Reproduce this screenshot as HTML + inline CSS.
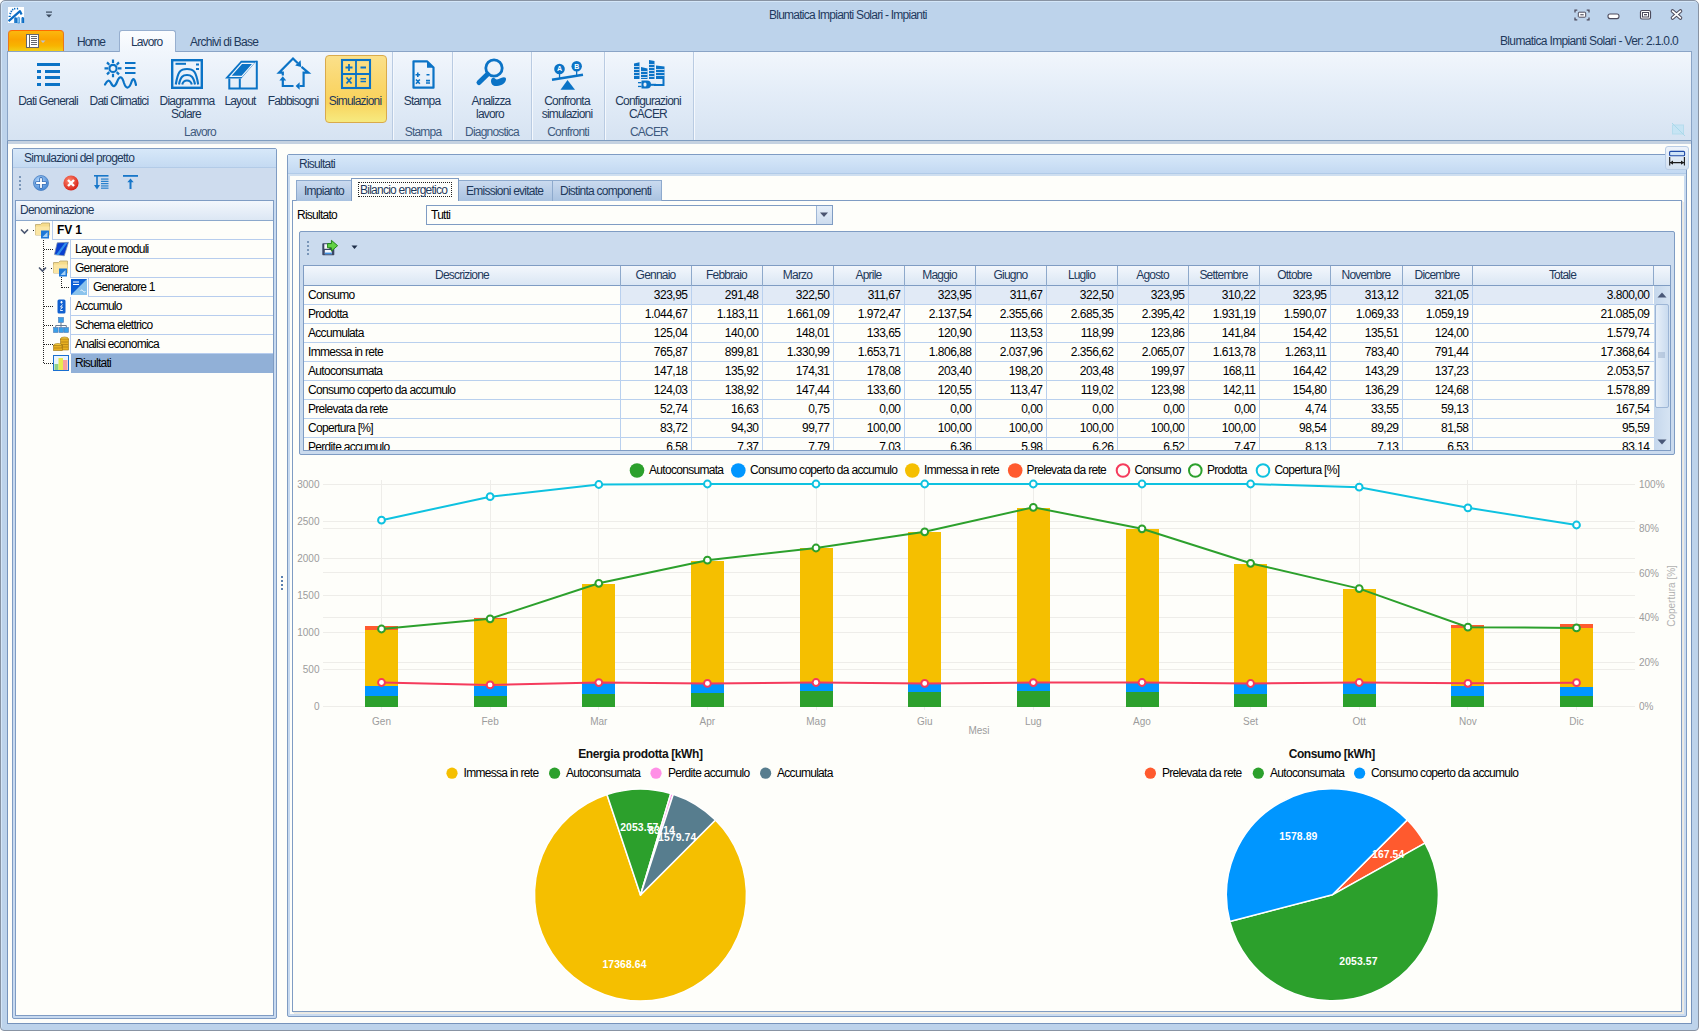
<!DOCTYPE html>
<html><head><meta charset="utf-8">
<style>
*{box-sizing:border-box;margin:0;padding:0}
html,body{width:1699px;height:1031px;overflow:hidden;background:#fff}
body{position:relative;font-family:"Liberation Sans",sans-serif;font-size:12px;color:#1e395b;letter-spacing:-0.8px}
.a{position:absolute}
.t{position:absolute;white-space:nowrap;line-height:14px}
svg{position:absolute;overflow:visible}
#frame{left:0;top:0;width:1699px;height:1031px;background:#bdd3eb;border:1px solid #8893a3;border-radius:5px 5px 4px 4px;box-shadow:inset 1px 1px 0 #d4e6f8}
#client{left:7px;top:51px;width:1685px;height:973px;border:1px solid #7693bb;background:#fefefa}
#ribbon{left:7px;top:51px;width:1685px;height:90px;border:1px solid #8aa4c6;border-bottom:1px solid #7f9dc0;background:linear-gradient(#f1f6fc 0%,#e4edf8 45%,#d6e3f2 100%)}
#rshade{left:8px;top:141px;width:1683px;height:3px;background:#c5d2e1}
.sep{position:absolute;top:52px;width:1px;height:88px;background:#b9cbe2;box-shadow:1px 0 0 #f4f8fd}
.rl{position:absolute;white-space:nowrap;line-height:13px;text-align:center;color:#1e395b}
.gl{position:absolute;white-space:nowrap;line-height:13px;text-align:center;color:#3e5a7e;top:126px}
</style></head><body>
<div id="frame" class="a"></div>
<div id="client" class="a"></div>

<!-- title bar -->
<svg style="left:8px;top:7px" width="16" height="16" viewBox="0 0 16 16">
<rect x="0" y="0" width="16" height="16" fill="#fff"/>
<path d="M0.6 14.2 L12 4.2 L13.6 7.4" stroke="#0a6cc4" stroke-width="2.2" fill="none" stroke-linejoin="round"/>
<path d="M0.6 9.3h2.2M1.4 6.2l1.8 .7M2.6 3.8l1.4 1.2M4.3 1.8l.9 1.5M6.5 0.8l.4 1.7M9.4 0.7l.2 1.8" stroke="#0a6cc4" stroke-width="1.3"/>
<path d="M6.9 16V11.6a0.7 0.7 0 0 1 1.4 0V16" stroke="#0a6cc4" stroke-width="1.3" fill="none"/>
<path d="M9.6 16V11.2a1 1 0 0 1 2 0V16Z" fill="#8ec6ef" stroke="#3a92dc" stroke-width="0.8"/>
<path d="M14.1 16V11.4a0.7 0.7 0 0 1 1.4 0V16" stroke="#0a6cc4" stroke-width="1.3" fill="none"/>
</svg>
<svg style="left:45px;top:10px" width="10" height="10" viewBox="0 0 10 10">
<rect x="1" y="1.5" width="6" height="1.2" fill="#3b4a5e"/><path d="M1 4.5h6l-3 3z" fill="#3b4a5e"/>
</svg>
<div class="t" style="left:769px;top:8px;color:#1f3a60;letter-spacing:-0.75px">Blumatica Impianti Solari - Impianti</div>
<svg style="left:1574px;top:9px" width="16" height="12" viewBox="0 0 16 12">
<path d="M1 3.5V1.2h2.3M12.7 1.2H15v2.3M15 8.5v2.3h-2.3M3.3 10.8H1V8.5" stroke="#4d4b5c" stroke-width="1.3" fill="none"/>
<rect x="4.3" y="3.2" width="7.4" height="5" rx="0.8" fill="#fff" stroke="#4d4b5c" stroke-width="1"/>
<rect x="6.3" y="5.2" width="3.4" height="1.1" fill="#4d4b5c"/>
</svg>
<svg style="left:1607px;top:13px" width="13" height="7" viewBox="0 0 13 7">
<rect x="1" y="1" width="11" height="4.6" rx="2" fill="#fff" stroke="#4d4b5c" stroke-width="1.1"/>
</svg>
<svg style="left:1639px;top:9px" width="13" height="12" viewBox="0 0 13 12">
<rect x="1.5" y="1.5" width="10" height="8.5" rx="1.5" fill="#fff" stroke="#4d4b5c" stroke-width="1.2"/>
<rect x="3.5" y="3.5" width="6" height="4.5" fill="none" stroke="#4d4b5c" stroke-width="1"/>
<rect x="5" y="5" width="3" height="1.3" fill="#4d4b5c"/>
</svg>
<svg style="left:1670px;top:9px" width="13" height="11" viewBox="0 0 13 11">
<path d="M2.6 2.1L10.4 8.9M10.4 2.1L2.6 8.9" stroke="#4d4b5c" stroke-width="3.8" stroke-linecap="round"/>
<path d="M2.6 2.1L10.4 8.9M10.4 2.1L2.6 8.9" stroke="#fff" stroke-width="1.8" stroke-linecap="round"/>
</svg>

<!-- ribbon tabs -->
<div class="a" style="left:8px;top:30px;width:56px;height:22px;border:1px solid #e8781c;border-bottom:none;border-radius:4px 4px 0 0;border-top:1px solid #ff6a00;background:linear-gradient(#fbb80e 0%,#fba400 40%,#f8b400 70%,#f0d21c 100%)"></div>
<svg style="left:26px;top:34px" width="21" height="14" viewBox="0 0 21 14" shape-rendering="crispEdges">
<rect x="0.5" y="0.5" width="12" height="13" fill="#fff" stroke="#62666e" stroke-width="1"/>
<path d="M3.5 1v12" stroke="#62666e" stroke-width="1"/>
<path d="M5 2.5h6M5 4.5h6M5 6.5h6M5 8.5h6M5 10.5h6" stroke="#62666e" stroke-width="1"/>
<path d="M14.5 6.5h5l-2.5 2.5z" fill="#b9c3d3" shape-rendering="auto"/>
</svg>
<div class="t" style="left:77px;top:35px;letter-spacing:-1px">Home</div>
<div class="t" style="left:190px;top:35px;letter-spacing:-0.75px">Archivi di Base</div>
<div class="t" style="left:1500px;top:34px;letter-spacing:-0.65px">Blumatica Impianti Solari - Ver: 2.1.0.0</div>

<!-- ribbon panel -->
<div id="ribbon" class="a"></div>
<div id="rshade" class="a"></div>
<svg style="left:1671px;top:122px" width="15" height="15" viewBox="0 0 15 15"><rect x="1.5" y="3" width="11" height="9" fill="#c6e4f4" stroke="#b5dced" stroke-width="1"/><path d="M1 1l13 13" stroke="#a9d8ea" stroke-width="1"/></svg>
<!-- placeholder for ribbon content -->
<!-- Lavoro tab on top of ribbon border -->
<div class="a" style="left:119px;top:30px;width:57px;height:22px;border:1px solid #97afcf;border-bottom:none;border-radius:3px 3px 0 0;background:linear-gradient(#fbfdff,#f1f6fc)"></div>
<div class="t" style="left:131px;top:35px;letter-spacing:-0.9px">Lavoro</div>
<!-- separators -->
<div class="sep" style="left:392px"></div>
<div class="sep" style="left:452px"></div>
<div class="sep" style="left:531px"></div>
<div class="sep" style="left:604px"></div>
<div class="sep" style="left:693px"></div>
<!-- Simulazioni selected -->
<div class="a" style="left:325px;top:55px;width:62px;height:68px;border:1px solid #d9aa4c;border-radius:4px;background:linear-gradient(#fbe08a 0%,#fad66a 45%,#f9d35c 70%,#f6ea80 100%)"></div>
<!-- icons -->
<svg style="left:37px;top:63px" width="23" height="23" viewBox="0 0 23 23" fill="#0b73c6">
<rect x="0" y="0" width="23" height="3"/><rect x="0" y="7" width="4" height="3"/><rect x="8" y="7" width="15" height="3"/>
<rect x="0" y="13" width="4" height="3"/><rect x="8" y="13" width="15" height="3"/><rect x="0" y="20" width="4" height="3"/><rect x="8" y="20" width="15" height="3"/>
</svg>
<svg style="left:103px;top:58px" width="35" height="32" viewBox="0 0 35 32">
<g stroke="#0b73c6" stroke-width="2.2" fill="none">
<circle cx="10" cy="10.4" r="3.6"/>
<path d="M10 1.5v3.5M10 15.8v3.5M1.5 10.4h3.5M15 10.4h3.5M4 4.4l2.3 2.3M13.7 14.1l2.3 2.3M16 4.4l-2.3 2.3M6.3 14.1l-2.3 2.3"/>
<path d="M22 5h10.5M22 10h10.5M22 15h10.5"/>
<path d="M2 26.5 C4.5 22,6 21.5,8 25 C10 29.5,12 29,14 24 C16.5 17.5,19 18,21 25 C23 31,26 31.5,28.5 24 C30 19.5,31.5 20,33 27" stroke-linecap="round"/>
</g></svg>
<svg style="left:171px;top:59px" width="32" height="30" viewBox="0 0 32 30">
<g stroke="#0b73c6" fill="none">
<rect x="1.2" y="1.2" width="29.6" height="27.6" stroke-width="2.4"/>
<path d="M4.5 4.8h10.5" stroke-width="2"/><path d="M25 5.5h3M25 10h3" stroke-width="2"/>
<path d="M4.8 25.5 C7 12,9.5 10,16 10 C22.5 10,25 12,27.2 25.5" stroke-width="2.1"/>
<path d="M8 25.5 C9.5 17.5,12 16,16 16 C20 16,22.5 17.5,24 25.5" stroke-width="2.1"/>
<path d="M11.2 25.5 C12 22.5,13.5 21.5,16 21.5 C18.5 21.5,20 22.5,20.8 25.5" stroke-width="2.1"/>
</g></svg>
<svg style="left:224px;top:60px" width="34" height="30" viewBox="0 0 34 30">
<path d="M1 18.6 L17 0.7 H32.8 L17.3 18.6 Z" fill="#0b73c6"/>
<path d="M6.3 16.3 L17.8 3.3 H29.3 L17.8 16.3 Z" fill="none" stroke="#f1f6fc" stroke-width="1.2"/>
<g stroke="#0b73c6" stroke-width="2" fill="none">
<path d="M32.8 0.7V28.5H5.3V18.6"/>
<path d="M15.8 18.6V28.5"/>
</g></svg>
<svg style="left:277px;top:57px" width="33" height="33" viewBox="0 0 33 33">
<g stroke="#0b73c6" stroke-width="2.2" fill="none" stroke-linejoin="miter">
<path d="M5.8 18.5V15.7H2L16 1.5L20.8 6.3"/>
<path d="M24.5 9.8L31.4 15.7H26.6V29H22.5"/>
<path d="M16.5 29H5.8V23"/>
</g>
<g fill="#0b73c6">
<path d="M18.2 8.6L23.6 3.2L24.2 10Z"/>
<path d="M22.6 25.2V32.8L18.6 29Z"/>
<path d="M2.4 23.4H9.2L5.8 19.2Z"/>
</g></svg>
<svg style="left:341px;top:59px" width="30" height="30" viewBox="0 0 30 30">
<g fill="none" stroke="#0b73c6">
<rect x="1" y="1" width="28" height="28" stroke-width="2.1"/>
<path d="M15 1v28M1 15h28" stroke-width="1.8"/>
<path d="M8 5v7M4.5 8.5h7M19.5 8.5h5.5" stroke-width="1.8"/>
<path d="M5.5 18.5l5 6M10.5 18.5l-5 6" stroke-width="1.8"/>
<path d="M19.5 19.7h5.5M19.5 22.6h5.5" stroke-width="1.5"/>
</g></svg>
<svg style="left:412px;top:60px" width="23" height="29" viewBox="0 0 23 29">
<path d="M1.5 1.3 H15 L21.5 7.5 V27.7 H1.5 Z" fill="none" stroke="#0b73c6" stroke-width="2.2" stroke-linejoin="round"/>
<path d="M15 1 V7.8 H21.8 Z" fill="#0b73c6"/>
<g stroke="#0b73c6" stroke-width="1.6" fill="none">
<path d="M5.8 12.5v4.5M3.5 14.7h4.6M14.5 14.7h3"/>
<path d="M4 19.5l3.8 4.3M7.8 19.5l-3.8 4.3M14 20.6h4M14 23h4"/>
</g></svg>
<svg style="left:475px;top:57px" width="33" height="33" viewBox="0 0 33 33">
<circle cx="19" cy="11" r="8.2" fill="none" stroke="#0b73c6" stroke-width="2.8"/>
<path d="M12.5 17.2 L4 25.5" stroke="#0b73c6" stroke-width="5" stroke-linecap="round"/>
<path d="M16 24 C16 27.5,18.5 29.5,22 29 C27 28.5,30.5 26,31 22.5 C31.3 20,29 19.5,26 21 C23 22.5,21.5 23,20 21.5 C18.5 20,16 21,16 24 Z" fill="#0b73c6"/>
</svg>
<svg style="left:551px;top:60px" width="34" height="30" viewBox="0 0 34 30">
<g fill="#0b73c6">
<circle cx="8.5" cy="9" r="5.3"/><circle cx="25.7" cy="6.2" r="5.2"/>
<path d="M0.8 18.5 L31.8 13.5 L32.2 16 L1.2 21 Z"/>
<path d="M9.5 29.7 L16.5 20 L24 29.7 Z"/>
<rect x="7.9" y="13" width="1.3" height="6"/><rect x="25" y="10.5" width="1.3" height="5"/>
</g>
<text x="8.5" y="11.3" font-size="7" font-weight="bold" fill="#fff" text-anchor="middle" style="letter-spacing:0">A</text>
<text x="25.7" y="8.6" font-size="7" font-weight="bold" fill="#fff" text-anchor="middle" style="letter-spacing:0">B</text>
</svg>
<svg style="left:633px;top:59px" width="33" height="31" viewBox="0 0 33 31">
<g fill="#0b73c6">
<path d="M1 4.5 L6.5 3.2 V20 H1 Z"/>
<path d="M8 8 L14.5 9.5 V20 H8 Z"/>
<path d="M16 1 L21.5 2 V20 H16 Z"/>
<path d="M23 6.5 L31.5 7.5 V27 H21 V25 H29.5 V20 H23 Z"/>
<path d="M8.5 21.5 H14 A4 4 0 0 1 14 29.5 H8.5 Z"/>
<rect x="5" y="23" width="3.5" height="1.3"/><rect x="5" y="26.8" width="3.5" height="1.3"/>
<rect x="14" y="24.8" width="9" height="2"/>
</g>
<g fill="#e9f1fa">
<rect x="1" y="7" width="5.5" height="0.8"/><rect x="1" y="10" width="5.5" height="0.8"/><rect x="1" y="13" width="5.5" height="0.8"/><rect x="1" y="16" width="5.5" height="0.8"/>
<rect x="8" y="12" width="6.5" height="0.8"/><rect x="8" y="15" width="6.5" height="0.8"/><rect x="8" y="18" width="6.5" height="0.8"/>
<rect x="16" y="5" width="5.5" height="0.8"/><rect x="16" y="8" width="5.5" height="0.8"/><rect x="16" y="11" width="5.5" height="0.8"/><rect x="16" y="14" width="5.5" height="0.8"/><rect x="16" y="17" width="5.5" height="0.8"/>
<rect x="23" y="10" width="8.5" height="0.8"/><rect x="23" y="13" width="8.5" height="0.8"/><rect x="23" y="16" width="8.5" height="0.8"/>
<rect x="10.5" y="23.5" width="3" height="4" rx="1.5"/>
</g></svg>
<!-- labels -->
<div class="rl" style="left:-2px;top:95px;width:100px">Dati Generali</div>
<div class="rl" style="left:69px;top:95px;width:100px">Dati Climatici</div>
<div class="rl" style="left:137px;top:95px;width:100px">Diagramma</div>
<div class="rl" style="left:136px;top:108px;width:100px">Solare</div>
<div class="rl" style="left:190px;top:95px;width:100px">Layout</div>
<div class="rl" style="left:243px;top:95px;width:100px">Fabbisogni</div>
<div class="rl" style="left:305px;top:95px;width:100px">Simulazioni</div>
<div class="rl" style="left:372px;top:95px;width:100px">Stampa</div>
<div class="rl" style="left:441px;top:95px;width:100px">Analizza</div>
<div class="rl" style="left:440px;top:108px;width:100px">lavoro</div>
<div class="rl" style="left:517px;top:95px;width:100px">Confronta</div>
<div class="rl" style="left:517px;top:108px;width:100px">simulazioni</div>
<div class="rl" style="left:598px;top:95px;width:100px">Configurazioni</div>
<div class="rl" style="left:598px;top:108px;width:100px">CACER</div>
<div class="gl" style="left:150px;width:100px">Lavoro</div>
<div class="gl" style="left:373px;width:100px">Stampa</div>
<div class="gl" style="left:442px;width:100px">Diagnostica</div>
<div class="gl" style="left:518px;width:100px">Confronti</div>
<div class="gl" style="left:599px;width:100px">CACER</div>


<!-- LEFT PANEL -->
<div class="a" style="left:12px;top:148px;width:265px;height:871px;border:1px solid #7f9cc3;border-radius:2px;background:#c8daf0"></div>
<div class="a" style="left:13px;top:149px;width:263px;height:19px;background:linear-gradient(#d7e8f9,#c4daf2);border-bottom:1px solid #b3cbe7"></div>
<div class="t" style="left:24px;top:151px;letter-spacing:-0.75px">Simulazioni del progetto</div>
<div class="a" style="left:13px;top:168px;width:263px;height:32px;background:#cedcee"></div>
<div class="a" style="left:19px;top:176px;width:2px;height:14px;background:repeating-linear-gradient(#7a96b8 0 2px,transparent 2px 4px)"></div>
<svg style="left:33px;top:175px" width="16" height="16" viewBox="0 0 16 16">
<defs><radialGradient id="gb" cx="40%" cy="35%" r="70%"><stop offset="0" stop-color="#b9dcff"/><stop offset="1" stop-color="#3b7fd0"/></radialGradient>
<radialGradient id="gr" cx="40%" cy="35%" r="70%"><stop offset="0" stop-color="#ff8a70"/><stop offset="1" stop-color="#d41a10"/></radialGradient></defs>
<circle cx="8" cy="8" r="7.5" fill="url(#gb)" stroke="#4a7fc0" stroke-width="0.8"/>
<path d="M8 3.8v8.4M3.8 8h8.4" stroke="#3a6fb5" stroke-width="3.6" stroke-linecap="round"/><path d="M8 3.8v8.4M3.8 8h8.4" stroke="#fff" stroke-width="1.8" stroke-linecap="round"/>
</svg>
<svg style="left:63px;top:175px" width="16" height="16" viewBox="0 0 16 16">
<circle cx="8" cy="8" r="7.6" fill="url(#gr)"/>
<path d="M5 5l6 6M11 5l-6 6" stroke="#fff" stroke-width="2.4"/>
</svg>
<svg style="left:94px;top:175px" width="15" height="15" viewBox="0 0 15 15">
<g fill="#1877c9"><rect x="0" y="0" width="14.5" height="1.6"/><rect x="2.2" y="1" width="1.6" height="10"/><path d="M0 10h6l-3 4.5z"/>
<rect x="7" y="3.5" width="7.5" height="1.1"/><rect x="7" y="5.8" width="7.5" height="1.1"/><rect x="7" y="8.1" width="7.5" height="1.1"/><rect x="7" y="10.4" width="7.5" height="1.1"/><rect x="7" y="12.6" width="7.5" height="1.1"/></g>
</svg>
<svg style="left:123px;top:175px" width="15" height="15" viewBox="0 0 15 15">
<g fill="#1877c9"><rect x="0" y="0" width="15" height="1.8"/><path d="M7.5 3.5l3.2 3.8h-2.2v6.7h-2v-6.7h-2.2z"/></g>
</svg>
<!-- tree -->
<div class="a" style="left:15px;top:200px;width:259px;height:816px;border:1px solid #7f9cc3;background:#fefefa"></div>
<div class="a" style="left:16px;top:201px;width:257px;height:20px;background:linear-gradient(#f3f7fc,#dce7f4);border-bottom:1px solid #8ba8cc"></div>
<div class="t" style="left:20px;top:203px;letter-spacing:-0.75px">Denominazione</div>
<!-- row cells -->
<div class="a" style="left:52px;top:221px;width:221px;height:19px;border-left:1px solid #b7cdee;border-bottom:1px solid #b7cdee"></div>
<div class="a" style="left:70px;top:240px;width:203px;height:19px;border-left:1px solid #b7cdee;border-bottom:1px solid #b7cdee"></div>
<div class="a" style="left:70px;top:259px;width:203px;height:19px;border-left:1px solid #b7cdee;border-bottom:1px solid #b7cdee"></div>
<div class="a" style="left:88px;top:278px;width:185px;height:19px;border-left:1px solid #b7cdee;border-bottom:1px solid #b7cdee"></div>
<div class="a" style="left:70px;top:297px;width:203px;height:19px;border-left:1px solid #b7cdee;border-bottom:1px solid #b7cdee"></div>
<div class="a" style="left:70px;top:316px;width:203px;height:19px;border-left:1px solid #b7cdee;border-bottom:1px solid #b7cdee"></div>
<div class="a" style="left:70px;top:335px;width:203px;height:19px;border-left:1px solid #b7cdee;border-bottom:1px solid #b7cdee"></div>
<div class="a" style="left:71px;top:354px;width:202px;height:19px;background:#91b0d7"></div>
<!-- dotted lines -->
<div class="a" style="left:43px;top:240px;width:1px;height:124px;background:repeating-linear-gradient(#222 0 1px,transparent 1px 2px)"></div>
<div class="a" style="left:44px;top:249px;width:9px;height:1px;background:repeating-linear-gradient(90deg,#222 0 1px,transparent 1px 2px)"></div>
<div class="a" style="left:44px;top:306px;width:9px;height:1px;background:repeating-linear-gradient(90deg,#222 0 1px,transparent 1px 2px)"></div>
<div class="a" style="left:44px;top:325px;width:9px;height:1px;background:repeating-linear-gradient(90deg,#222 0 1px,transparent 1px 2px)"></div>
<div class="a" style="left:44px;top:344px;width:9px;height:1px;background:repeating-linear-gradient(90deg,#222 0 1px,transparent 1px 2px)"></div>
<div class="a" style="left:44px;top:363px;width:9px;height:1px;background:repeating-linear-gradient(90deg,#222 0 1px,transparent 1px 2px)"></div>
<div class="a" style="left:61px;top:277px;width:1px;height:11px;background:repeating-linear-gradient(#222 0 1px,transparent 1px 2px)"></div>
<div class="a" style="left:62px;top:287px;width:8px;height:1px;background:repeating-linear-gradient(90deg,#222 0 1px,transparent 1px 2px)"></div>
<div class="a" style="left:33px;top:230px;width:1px;height:1px;background:#222"></div>
<div class="a" style="left:51px;top:268px;width:1px;height:1px;background:#222"></div>
<!-- chevrons -->
<svg style="left:20px;top:228px" width="9" height="7" viewBox="0 0 9 7"><path d="M1 1.5l3.5 3.5l3.5-3.5" stroke="#4a5670" stroke-width="1.6" fill="none"/></svg>
<svg style="left:38px;top:266px" width="9" height="7" viewBox="0 0 9 7"><path d="M1 1.5l3.5 3.5l3.5-3.5" stroke="#4a5670" stroke-width="1.6" fill="none"/></svg>
<!-- icons -->
<svg style="left:35px;top:222px" width="16" height="17" viewBox="0 0 16 17">
<path d="M0.5 2.5h5l1.5-1.5h7.5v12h-14z" fill="#f6dc8c" stroke="#b9a46a" stroke-width="0.8"/>
<path d="M0.5 4.5h14v8.5h-14z" fill="#fbe6a4"/>
<rect x="6" y="8.5" width="8" height="8" fill="#1e78d8"/><path d="M7.5 15l5-5v5z" fill="#a9d3f5"/>
</svg>
<svg style="left:54px;top:242px" width="15" height="15" viewBox="0 0 15 15">
<path d="M3.2 0.8 L14.5 0.3 L10.3 13.8 L0.4 12.6 Z" fill="#0a3fd0" stroke="#8a96a8" stroke-width="0.7"/>
<path d="M11 0.8 L13.6 0.7 L4.5 13.2 L1.8 12.9 Z" fill="#3a9cf0" opacity="0.85"/>
</svg>
<svg style="left:53px;top:260px" width="16" height="17" viewBox="0 0 16 17">
<path d="M0.5 2.5h5l1.5-1.5h7.5v12h-14z" fill="#f6dc8c" stroke="#b9a46a" stroke-width="0.8"/>
<path d="M0.5 4.5h14v8.5h-14z" fill="#fbe6a4"/>
<rect x="6" y="8.5" width="8" height="8" fill="#1e78d8"/><path d="M7.5 15l5-5v5z" fill="#a9d3f5"/>
</svg>
<svg style="left:71px;top:279px" width="16" height="16" viewBox="0 0 16 16">
<rect x="0" y="0" width="16" height="16" fill="#0b5fd6"/><path d="M16 0v16h-16z" fill="#8ac3ec"/>
<path d="M2 3h6M2 5.5h6" stroke="#fff" stroke-width="1"/><path d="M9.5 12c1-1.5 1.5-1.5 2.5 0s1.5 1.5 2.5 0" stroke="#fff" stroke-width="0.8" fill="none"/>
</svg>
<svg style="left:57px;top:299px" width="9" height="15" viewBox="0 0 9 15">
<rect x="0.5" y="0.5" width="8" height="14" rx="1.5" fill="#1060d0"/>
<path d="M4.5 2v2.5M3.2 3.2h2.6M3.2 11.5h2.6M5.5 5.5l-2 2.5h2l-2 2.5" stroke="#fff" stroke-width="0.9" fill="none"/>
</svg>
<svg style="left:53px;top:317px" width="16" height="16" viewBox="0 0 16 16">
<g fill="#3aa0e8" stroke="#4a78b8" stroke-width="0.6"><rect x="5.5" y="0.5" width="5" height="5"/><rect x="0.5" y="10.5" width="4.5" height="5"/><rect x="6" y="10.5" width="4.5" height="5"/><rect x="11" y="10.5" width="4.5" height="5"/></g>
<path d="M8 5.5v3M2.7 10.5v-2h10.6v2M8 8.5v2" stroke="#6a7a90" stroke-width="1" fill="none"/>
</svg>
<svg style="left:53px;top:336px" width="16" height="16" viewBox="0 0 16 16">
<g stroke="#9a7010" stroke-width="0.6"><ellipse cx="11.5" cy="3" rx="4" ry="2" fill="#f8d040"/><rect x="7.5" y="3" width="8" height="11" fill="#e8b020"/><ellipse cx="5" cy="9.5" rx="4.5" ry="2" fill="#f8d040"/><rect x="0.5" y="9.5" width="9" height="5" fill="#e8b020"/></g>
<path d="M8 6h7M8 8.5h7M8 11h7M1 12h8" stroke="#a07010" stroke-width="0.6"/>
</svg>
<svg style="left:53px;top:355px" width="16" height="16" viewBox="0 0 16 16">
<rect x="0.5" y="0.5" width="15" height="15" fill="#7cc0f0" stroke="#1a6fd0" stroke-width="1"/>
<rect x="1" y="1" width="14" height="14" fill="#eaf4fc"/>
<rect x="1.5" y="9" width="4" height="6" fill="#8ed08a"/><rect x="5.5" y="3" width="4.5" height="12" fill="#e8ea50"/><rect x="10" y="5" width="4.5" height="10" fill="#f8a0a0"/>
</svg>
<!-- texts -->
<div class="t" style="left:57px;top:223px;color:#000;font-weight:bold;letter-spacing:-0.1px">FV 1</div>
<div class="t" style="left:75px;top:242px;color:#000;letter-spacing:-0.75px">Layout e moduli</div>
<div class="t" style="left:75px;top:261px;color:#000;letter-spacing:-0.75px">Generatore</div>
<div class="t" style="left:93px;top:280px;color:#000;letter-spacing:-0.75px">Generatore 1</div>
<div class="t" style="left:75px;top:299px;color:#000;letter-spacing:-0.75px">Accumulo</div>
<div class="t" style="left:75px;top:318px;color:#000;letter-spacing:-0.75px">Schema elettrico</div>
<div class="t" style="left:75px;top:337px;color:#000;letter-spacing:-0.75px">Analisi economica</div>
<div class="t" style="left:75px;top:356px;color:#000;letter-spacing:-0.75px">Risultati</div>
<!-- splitter grip -->
<div class="a" style="left:281px;top:576px;width:2px;height:14px;background:repeating-linear-gradient(#5b80b0 0 2px,transparent 2px 4px)"></div>


<!-- RIGHT PANEL -->
<div class="a" style="left:287px;top:154px;width:1400px;height:863px;border:1px solid #7f9cc3;border-radius:2px;background:#c9dbf0"></div>
<div class="a" style="left:288px;top:155px;width:1398px;height:19px;background:linear-gradient(#d7e8f9,#c3d9f2);border-bottom:1px solid #b1cbe8"></div>
<div class="t" style="left:299px;top:157px;letter-spacing:-0.75px">Risultati</div>
<div class="a" style="left:288px;top:174px;width:1398px;height:2px;background:#cfdff0"></div><div class="a" style="left:290px;top:176px;width:1394px;height:838px;background:#fefefa"></div>
<div class="a" style="left:1665px;top:146px;width:24px;height:24px;border:1px solid #b9cde6;border-radius:3px;background:linear-gradient(#eef4fb,#d3e1f1)"></div>
<svg style="left:1668px;top:150px" width="18" height="17" viewBox="0 0 18 17"><rect x="1.6" y="1.4" width="15" height="4.4" rx="1" fill="#cfe4f8" stroke="#1f4aa8" stroke-width="1.1"/><path d="M1.7 7v8.4M16.4 7v8.4M2 12.6h14" stroke="#1a1a1a" stroke-width="1.1"/><path d="M2 12.6l3-2.2v4.4zM16 12.6l-3-2.2v4.4z" fill="#1a1a1a"/></svg>
<div class="a" style="left:292px;top:200px;width:1390px;height:812px;border:1px solid #7f9cc3;background:#fefefa;box-shadow:1px 1px 0 #e9e8e2,2px 2px 0 #eceae4"></div>
<div class="a" style="left:296px;top:180px;width:56px;height:21px;border:1px solid #8eaacd;border-bottom:none;background:linear-gradient(#cadaef,#a9c2e0)"></div>
<div class="a" style="left:458px;top:180px;width:95px;height:21px;border:1px solid #8eaacd;border-bottom:none;background:linear-gradient(#cadaef,#a9c2e0)"></div>
<div class="a" style="left:552px;top:180px;width:110px;height:21px;border:1px solid #8eaacd;border-bottom:none;background:linear-gradient(#cadaef,#a9c2e0)"></div>
<div class="a" style="left:351px;top:178px;width:108px;height:23px;border:1px solid #7f9cc3;border-bottom:none;background:#fefefa"></div>
<div class="t" style="left:304px;top:184px;letter-spacing:-0.75px">Impianto</div>
<div class="a" style="left:358px;top:182px;width:94px;height:15px;border:1px dotted #222"></div>
<div class="t" style="left:360px;top:183px;letter-spacing:-0.75px">Bilancio energetico</div>
<div class="t" style="left:466px;top:184px;letter-spacing:-0.75px">Emissioni evitate</div>
<div class="t" style="left:560px;top:184px;letter-spacing:-0.75px">Distinta componenti</div>
<div class="t" style="left:297px;top:208px;color:#000;letter-spacing:-0.75px">Risultato</div>
<div class="a" style="left:426px;top:205px;width:407px;height:20px;border:1px solid #7f9cc3;background:#fefefa"></div>
<div class="t" style="left:431px;top:208px;color:#000;letter-spacing:-0.75px">Tutti</div>
<div class="a" style="left:816px;top:206px;width:16px;height:18px;border-left:1px solid #9fb7d6;background:linear-gradient(#e6eff9,#cddcee)"></div>
<svg style="left:819px;top:212px" width="10" height="6" viewBox="0 0 10 6"><path d="M1 0.5h8l-4 4.5z" fill="#4a5470"/></svg>
<div class="a" style="left:299px;top:231px;width:1376px;height:224px;border:1px solid #7f9cc3;border-radius:2px;background:#cbdbee"></div>
<div class="a" style="left:307px;top:241px;width:2px;height:16px;background:repeating-linear-gradient(#7a96b8 0 2px,transparent 2px 4px)"></div>
<svg style="left:322px;top:239px" width="17" height="17" viewBox="0 0 17 17">
<rect x="0.3" y="4.2" width="12" height="12" rx="0.8" fill="#3b4664"/>
<rect x="2.3" y="5.2" width="5" height="4.6" fill="#f4f6fa"/>
<rect x="2.8" y="11" width="7" height="4.2" fill="#f4f6fa"/>
<rect x="2.8" y="13.6" width="7" height="1.6" fill="#3d8ee0"/>
<path d="M5.6 4.6h3.8V1.3l6.2 5.4l-6.2 5.4V8.8H5.6z" fill="#62d243" stroke="#23851a" stroke-width="1"/>
</svg>
<svg style="left:351px;top:245px" width="7" height="5" viewBox="0 0 7 5"><path d="M0.5 0.5h6l-3 3.5z" fill="#1e2e48"/></svg>
<div class="a" style="left:303px;top:265px;width:1368px;height:186px;border:1px solid #7f9cc3;background:#fefefa;overflow:hidden">
<div class="a" style="left:0;top:0;width:1366px;height:20px;background:linear-gradient(#f3f7fc,#dae6f4);border-bottom:1px solid #7f9cc3"></div>
<div class="a" style="left:317px;top:20px;width:1032px;height:18px;background:#e1eaf6"></div>
<div class="a" style="left:316px;top:0;width:1px;height:20px;background:#8ea9cb"></div>
<div class="a" style="left:387px;top:0;width:1px;height:20px;background:#8ea9cb"></div>
<div class="a" style="left:458px;top:0;width:1px;height:20px;background:#8ea9cb"></div>
<div class="a" style="left:529px;top:0;width:1px;height:20px;background:#8ea9cb"></div>
<div class="a" style="left:600px;top:0;width:1px;height:20px;background:#8ea9cb"></div>
<div class="a" style="left:671px;top:0;width:1px;height:20px;background:#8ea9cb"></div>
<div class="a" style="left:742px;top:0;width:1px;height:20px;background:#8ea9cb"></div>
<div class="a" style="left:813px;top:0;width:1px;height:20px;background:#8ea9cb"></div>
<div class="a" style="left:884px;top:0;width:1px;height:20px;background:#8ea9cb"></div>
<div class="a" style="left:955px;top:0;width:1px;height:20px;background:#8ea9cb"></div>
<div class="a" style="left:1026px;top:0;width:1px;height:20px;background:#8ea9cb"></div>
<div class="a" style="left:1098px;top:0;width:1px;height:20px;background:#8ea9cb"></div>
<div class="a" style="left:1168px;top:0;width:1px;height:20px;background:#8ea9cb"></div>
<div class="a" style="left:1349px;top:0;width:1px;height:20px;background:#8ea9cb"></div>
<div class="a" style="left:0;top:38px;width:1350px;height:1px;background:#b9d0ee"></div>
<div class="a" style="left:0;top:57px;width:1350px;height:1px;background:#b9d0ee"></div>
<div class="a" style="left:0;top:76px;width:1350px;height:1px;background:#b9d0ee"></div>
<div class="a" style="left:0;top:95px;width:1350px;height:1px;background:#b9d0ee"></div>
<div class="a" style="left:0;top:114px;width:1350px;height:1px;background:#b9d0ee"></div>
<div class="a" style="left:0;top:133px;width:1350px;height:1px;background:#b9d0ee"></div>
<div class="a" style="left:0;top:152px;width:1350px;height:1px;background:#b9d0ee"></div>
<div class="a" style="left:0;top:171px;width:1350px;height:1px;background:#b9d0ee"></div>
<div class="a" style="left:316px;top:20px;width:1px;height:170px;background:#b9d0ee"></div>
<div class="a" style="left:387px;top:20px;width:1px;height:170px;background:#b9d0ee"></div>
<div class="a" style="left:458px;top:20px;width:1px;height:170px;background:#b9d0ee"></div>
<div class="a" style="left:529px;top:20px;width:1px;height:170px;background:#b9d0ee"></div>
<div class="a" style="left:600px;top:20px;width:1px;height:170px;background:#b9d0ee"></div>
<div class="a" style="left:671px;top:20px;width:1px;height:170px;background:#b9d0ee"></div>
<div class="a" style="left:742px;top:20px;width:1px;height:170px;background:#b9d0ee"></div>
<div class="a" style="left:813px;top:20px;width:1px;height:170px;background:#b9d0ee"></div>
<div class="a" style="left:884px;top:20px;width:1px;height:170px;background:#b9d0ee"></div>
<div class="a" style="left:955px;top:20px;width:1px;height:170px;background:#b9d0ee"></div>
<div class="a" style="left:1026px;top:20px;width:1px;height:170px;background:#b9d0ee"></div>
<div class="a" style="left:1098px;top:20px;width:1px;height:170px;background:#b9d0ee"></div>
<div class="a" style="left:1168px;top:20px;width:1px;height:170px;background:#b9d0ee"></div>
<div class="t" style="left:0px;top:2px;width:316px;text-align:center">Descrizione</div>
<div class="t" style="left:316px;top:2px;width:71px;text-align:center">Gennaio</div>
<div class="t" style="left:387px;top:2px;width:71px;text-align:center">Febbraio</div>
<div class="t" style="left:458px;top:2px;width:71px;text-align:center">Marzo</div>
<div class="t" style="left:529px;top:2px;width:71px;text-align:center">Aprile</div>
<div class="t" style="left:600px;top:2px;width:71px;text-align:center">Maggio</div>
<div class="t" style="left:671px;top:2px;width:71px;text-align:center">Giugno</div>
<div class="t" style="left:742px;top:2px;width:71px;text-align:center">Luglio</div>
<div class="t" style="left:813px;top:2px;width:71px;text-align:center">Agosto</div>
<div class="t" style="left:884px;top:2px;width:71px;text-align:center">Settembre</div>
<div class="t" style="left:955px;top:2px;width:71px;text-align:center">Ottobre</div>
<div class="t" style="left:1026px;top:2px;width:72px;text-align:center">Novembre</div>
<div class="t" style="left:1098px;top:2px;width:70px;text-align:center">Dicembre</div>
<div class="t" style="left:1168px;top:2px;width:181px;text-align:center">Totale</div>
<div class="t" style="left:4px;top:22px;color:#000;letter-spacing:-0.7px">Consumo</div>
<div class="t" style="left:316px;top:22px;width:67.5px;text-align:right;color:#000;letter-spacing:-0.5px">323,95</div>
<div class="t" style="left:387px;top:22px;width:67.5px;text-align:right;color:#000;letter-spacing:-0.5px">291,48</div>
<div class="t" style="left:458px;top:22px;width:67.5px;text-align:right;color:#000;letter-spacing:-0.5px">322,50</div>
<div class="t" style="left:529px;top:22px;width:67.5px;text-align:right;color:#000;letter-spacing:-0.5px">311,67</div>
<div class="t" style="left:600px;top:22px;width:67.5px;text-align:right;color:#000;letter-spacing:-0.5px">323,95</div>
<div class="t" style="left:671px;top:22px;width:67.5px;text-align:right;color:#000;letter-spacing:-0.5px">311,67</div>
<div class="t" style="left:742px;top:22px;width:67.5px;text-align:right;color:#000;letter-spacing:-0.5px">322,50</div>
<div class="t" style="left:813px;top:22px;width:67.5px;text-align:right;color:#000;letter-spacing:-0.5px">323,95</div>
<div class="t" style="left:884px;top:22px;width:67.5px;text-align:right;color:#000;letter-spacing:-0.5px">310,22</div>
<div class="t" style="left:955px;top:22px;width:67.5px;text-align:right;color:#000;letter-spacing:-0.5px">323,95</div>
<div class="t" style="left:1026px;top:22px;width:68.5px;text-align:right;color:#000;letter-spacing:-0.5px">313,12</div>
<div class="t" style="left:1098px;top:22px;width:66.5px;text-align:right;color:#000;letter-spacing:-0.5px">321,05</div>
<div class="t" style="left:1168px;top:22px;width:177.5px;text-align:right;color:#000;letter-spacing:-0.5px">3.800,00</div>
<div class="t" style="left:4px;top:41px;color:#000;letter-spacing:-0.7px">Prodotta</div>
<div class="t" style="left:316px;top:41px;width:67.5px;text-align:right;color:#000;letter-spacing:-0.5px">1.044,67</div>
<div class="t" style="left:387px;top:41px;width:67.5px;text-align:right;color:#000;letter-spacing:-0.5px">1.183,11</div>
<div class="t" style="left:458px;top:41px;width:67.5px;text-align:right;color:#000;letter-spacing:-0.5px">1.661,09</div>
<div class="t" style="left:529px;top:41px;width:67.5px;text-align:right;color:#000;letter-spacing:-0.5px">1.972,47</div>
<div class="t" style="left:600px;top:41px;width:67.5px;text-align:right;color:#000;letter-spacing:-0.5px">2.137,54</div>
<div class="t" style="left:671px;top:41px;width:67.5px;text-align:right;color:#000;letter-spacing:-0.5px">2.355,66</div>
<div class="t" style="left:742px;top:41px;width:67.5px;text-align:right;color:#000;letter-spacing:-0.5px">2.685,35</div>
<div class="t" style="left:813px;top:41px;width:67.5px;text-align:right;color:#000;letter-spacing:-0.5px">2.395,42</div>
<div class="t" style="left:884px;top:41px;width:67.5px;text-align:right;color:#000;letter-spacing:-0.5px">1.931,19</div>
<div class="t" style="left:955px;top:41px;width:67.5px;text-align:right;color:#000;letter-spacing:-0.5px">1.590,07</div>
<div class="t" style="left:1026px;top:41px;width:68.5px;text-align:right;color:#000;letter-spacing:-0.5px">1.069,33</div>
<div class="t" style="left:1098px;top:41px;width:66.5px;text-align:right;color:#000;letter-spacing:-0.5px">1.059,19</div>
<div class="t" style="left:1168px;top:41px;width:177.5px;text-align:right;color:#000;letter-spacing:-0.5px">21.085,09</div>
<div class="t" style="left:4px;top:60px;color:#000;letter-spacing:-0.7px">Accumulata</div>
<div class="t" style="left:316px;top:60px;width:67.5px;text-align:right;color:#000;letter-spacing:-0.5px">125,04</div>
<div class="t" style="left:387px;top:60px;width:67.5px;text-align:right;color:#000;letter-spacing:-0.5px">140,00</div>
<div class="t" style="left:458px;top:60px;width:67.5px;text-align:right;color:#000;letter-spacing:-0.5px">148,01</div>
<div class="t" style="left:529px;top:60px;width:67.5px;text-align:right;color:#000;letter-spacing:-0.5px">133,65</div>
<div class="t" style="left:600px;top:60px;width:67.5px;text-align:right;color:#000;letter-spacing:-0.5px">120,90</div>
<div class="t" style="left:671px;top:60px;width:67.5px;text-align:right;color:#000;letter-spacing:-0.5px">113,53</div>
<div class="t" style="left:742px;top:60px;width:67.5px;text-align:right;color:#000;letter-spacing:-0.5px">118,99</div>
<div class="t" style="left:813px;top:60px;width:67.5px;text-align:right;color:#000;letter-spacing:-0.5px">123,86</div>
<div class="t" style="left:884px;top:60px;width:67.5px;text-align:right;color:#000;letter-spacing:-0.5px">141,84</div>
<div class="t" style="left:955px;top:60px;width:67.5px;text-align:right;color:#000;letter-spacing:-0.5px">154,42</div>
<div class="t" style="left:1026px;top:60px;width:68.5px;text-align:right;color:#000;letter-spacing:-0.5px">135,51</div>
<div class="t" style="left:1098px;top:60px;width:66.5px;text-align:right;color:#000;letter-spacing:-0.5px">124,00</div>
<div class="t" style="left:1168px;top:60px;width:177.5px;text-align:right;color:#000;letter-spacing:-0.5px">1.579,74</div>
<div class="t" style="left:4px;top:79px;color:#000;letter-spacing:-0.7px">Immessa in rete</div>
<div class="t" style="left:316px;top:79px;width:67.5px;text-align:right;color:#000;letter-spacing:-0.5px">765,87</div>
<div class="t" style="left:387px;top:79px;width:67.5px;text-align:right;color:#000;letter-spacing:-0.5px">899,81</div>
<div class="t" style="left:458px;top:79px;width:67.5px;text-align:right;color:#000;letter-spacing:-0.5px">1.330,99</div>
<div class="t" style="left:529px;top:79px;width:67.5px;text-align:right;color:#000;letter-spacing:-0.5px">1.653,71</div>
<div class="t" style="left:600px;top:79px;width:67.5px;text-align:right;color:#000;letter-spacing:-0.5px">1.806,88</div>
<div class="t" style="left:671px;top:79px;width:67.5px;text-align:right;color:#000;letter-spacing:-0.5px">2.037,96</div>
<div class="t" style="left:742px;top:79px;width:67.5px;text-align:right;color:#000;letter-spacing:-0.5px">2.356,62</div>
<div class="t" style="left:813px;top:79px;width:67.5px;text-align:right;color:#000;letter-spacing:-0.5px">2.065,07</div>
<div class="t" style="left:884px;top:79px;width:67.5px;text-align:right;color:#000;letter-spacing:-0.5px">1.613,78</div>
<div class="t" style="left:955px;top:79px;width:67.5px;text-align:right;color:#000;letter-spacing:-0.5px">1.263,11</div>
<div class="t" style="left:1026px;top:79px;width:68.5px;text-align:right;color:#000;letter-spacing:-0.5px">783,40</div>
<div class="t" style="left:1098px;top:79px;width:66.5px;text-align:right;color:#000;letter-spacing:-0.5px">791,44</div>
<div class="t" style="left:1168px;top:79px;width:177.5px;text-align:right;color:#000;letter-spacing:-0.5px">17.368,64</div>
<div class="t" style="left:4px;top:98px;color:#000;letter-spacing:-0.7px">Autoconsumata</div>
<div class="t" style="left:316px;top:98px;width:67.5px;text-align:right;color:#000;letter-spacing:-0.5px">147,18</div>
<div class="t" style="left:387px;top:98px;width:67.5px;text-align:right;color:#000;letter-spacing:-0.5px">135,92</div>
<div class="t" style="left:458px;top:98px;width:67.5px;text-align:right;color:#000;letter-spacing:-0.5px">174,31</div>
<div class="t" style="left:529px;top:98px;width:67.5px;text-align:right;color:#000;letter-spacing:-0.5px">178,08</div>
<div class="t" style="left:600px;top:98px;width:67.5px;text-align:right;color:#000;letter-spacing:-0.5px">203,40</div>
<div class="t" style="left:671px;top:98px;width:67.5px;text-align:right;color:#000;letter-spacing:-0.5px">198,20</div>
<div class="t" style="left:742px;top:98px;width:67.5px;text-align:right;color:#000;letter-spacing:-0.5px">203,48</div>
<div class="t" style="left:813px;top:98px;width:67.5px;text-align:right;color:#000;letter-spacing:-0.5px">199,97</div>
<div class="t" style="left:884px;top:98px;width:67.5px;text-align:right;color:#000;letter-spacing:-0.5px">168,11</div>
<div class="t" style="left:955px;top:98px;width:67.5px;text-align:right;color:#000;letter-spacing:-0.5px">164,42</div>
<div class="t" style="left:1026px;top:98px;width:68.5px;text-align:right;color:#000;letter-spacing:-0.5px">143,29</div>
<div class="t" style="left:1098px;top:98px;width:66.5px;text-align:right;color:#000;letter-spacing:-0.5px">137,23</div>
<div class="t" style="left:1168px;top:98px;width:177.5px;text-align:right;color:#000;letter-spacing:-0.5px">2.053,57</div>
<div class="t" style="left:4px;top:117px;color:#000;letter-spacing:-0.7px">Consumo coperto da accumulo</div>
<div class="t" style="left:316px;top:117px;width:67.5px;text-align:right;color:#000;letter-spacing:-0.5px">124,03</div>
<div class="t" style="left:387px;top:117px;width:67.5px;text-align:right;color:#000;letter-spacing:-0.5px">138,92</div>
<div class="t" style="left:458px;top:117px;width:67.5px;text-align:right;color:#000;letter-spacing:-0.5px">147,44</div>
<div class="t" style="left:529px;top:117px;width:67.5px;text-align:right;color:#000;letter-spacing:-0.5px">133,60</div>
<div class="t" style="left:600px;top:117px;width:67.5px;text-align:right;color:#000;letter-spacing:-0.5px">120,55</div>
<div class="t" style="left:671px;top:117px;width:67.5px;text-align:right;color:#000;letter-spacing:-0.5px">113,47</div>
<div class="t" style="left:742px;top:117px;width:67.5px;text-align:right;color:#000;letter-spacing:-0.5px">119,02</div>
<div class="t" style="left:813px;top:117px;width:67.5px;text-align:right;color:#000;letter-spacing:-0.5px">123,98</div>
<div class="t" style="left:884px;top:117px;width:67.5px;text-align:right;color:#000;letter-spacing:-0.5px">142,11</div>
<div class="t" style="left:955px;top:117px;width:67.5px;text-align:right;color:#000;letter-spacing:-0.5px">154,80</div>
<div class="t" style="left:1026px;top:117px;width:68.5px;text-align:right;color:#000;letter-spacing:-0.5px">136,29</div>
<div class="t" style="left:1098px;top:117px;width:66.5px;text-align:right;color:#000;letter-spacing:-0.5px">124,68</div>
<div class="t" style="left:1168px;top:117px;width:177.5px;text-align:right;color:#000;letter-spacing:-0.5px">1.578,89</div>
<div class="t" style="left:4px;top:136px;color:#000;letter-spacing:-0.7px">Prelevata da rete</div>
<div class="t" style="left:316px;top:136px;width:67.5px;text-align:right;color:#000;letter-spacing:-0.5px">52,74</div>
<div class="t" style="left:387px;top:136px;width:67.5px;text-align:right;color:#000;letter-spacing:-0.5px">16,63</div>
<div class="t" style="left:458px;top:136px;width:67.5px;text-align:right;color:#000;letter-spacing:-0.5px">0,75</div>
<div class="t" style="left:529px;top:136px;width:67.5px;text-align:right;color:#000;letter-spacing:-0.5px">0,00</div>
<div class="t" style="left:600px;top:136px;width:67.5px;text-align:right;color:#000;letter-spacing:-0.5px">0,00</div>
<div class="t" style="left:671px;top:136px;width:67.5px;text-align:right;color:#000;letter-spacing:-0.5px">0,00</div>
<div class="t" style="left:742px;top:136px;width:67.5px;text-align:right;color:#000;letter-spacing:-0.5px">0,00</div>
<div class="t" style="left:813px;top:136px;width:67.5px;text-align:right;color:#000;letter-spacing:-0.5px">0,00</div>
<div class="t" style="left:884px;top:136px;width:67.5px;text-align:right;color:#000;letter-spacing:-0.5px">0,00</div>
<div class="t" style="left:955px;top:136px;width:67.5px;text-align:right;color:#000;letter-spacing:-0.5px">4,74</div>
<div class="t" style="left:1026px;top:136px;width:68.5px;text-align:right;color:#000;letter-spacing:-0.5px">33,55</div>
<div class="t" style="left:1098px;top:136px;width:66.5px;text-align:right;color:#000;letter-spacing:-0.5px">59,13</div>
<div class="t" style="left:1168px;top:136px;width:177.5px;text-align:right;color:#000;letter-spacing:-0.5px">167,54</div>
<div class="t" style="left:4px;top:155px;color:#000;letter-spacing:-0.7px">Copertura [%]</div>
<div class="t" style="left:316px;top:155px;width:67.5px;text-align:right;color:#000;letter-spacing:-0.5px">83,72</div>
<div class="t" style="left:387px;top:155px;width:67.5px;text-align:right;color:#000;letter-spacing:-0.5px">94,30</div>
<div class="t" style="left:458px;top:155px;width:67.5px;text-align:right;color:#000;letter-spacing:-0.5px">99,77</div>
<div class="t" style="left:529px;top:155px;width:67.5px;text-align:right;color:#000;letter-spacing:-0.5px">100,00</div>
<div class="t" style="left:600px;top:155px;width:67.5px;text-align:right;color:#000;letter-spacing:-0.5px">100,00</div>
<div class="t" style="left:671px;top:155px;width:67.5px;text-align:right;color:#000;letter-spacing:-0.5px">100,00</div>
<div class="t" style="left:742px;top:155px;width:67.5px;text-align:right;color:#000;letter-spacing:-0.5px">100,00</div>
<div class="t" style="left:813px;top:155px;width:67.5px;text-align:right;color:#000;letter-spacing:-0.5px">100,00</div>
<div class="t" style="left:884px;top:155px;width:67.5px;text-align:right;color:#000;letter-spacing:-0.5px">100,00</div>
<div class="t" style="left:955px;top:155px;width:67.5px;text-align:right;color:#000;letter-spacing:-0.5px">98,54</div>
<div class="t" style="left:1026px;top:155px;width:68.5px;text-align:right;color:#000;letter-spacing:-0.5px">89,29</div>
<div class="t" style="left:1098px;top:155px;width:66.5px;text-align:right;color:#000;letter-spacing:-0.5px">81,58</div>
<div class="t" style="left:1168px;top:155px;width:177.5px;text-align:right;color:#000;letter-spacing:-0.5px">95,59</div>
<div class="t" style="left:4px;top:174px;color:#000;letter-spacing:-0.7px">Perdite accumulo</div>
<div class="t" style="left:316px;top:174px;width:67.5px;text-align:right;color:#000;letter-spacing:-0.5px">6,58</div>
<div class="t" style="left:387px;top:174px;width:67.5px;text-align:right;color:#000;letter-spacing:-0.5px">7,37</div>
<div class="t" style="left:458px;top:174px;width:67.5px;text-align:right;color:#000;letter-spacing:-0.5px">7,79</div>
<div class="t" style="left:529px;top:174px;width:67.5px;text-align:right;color:#000;letter-spacing:-0.5px">7,03</div>
<div class="t" style="left:600px;top:174px;width:67.5px;text-align:right;color:#000;letter-spacing:-0.5px">6,36</div>
<div class="t" style="left:671px;top:174px;width:67.5px;text-align:right;color:#000;letter-spacing:-0.5px">5,98</div>
<div class="t" style="left:742px;top:174px;width:67.5px;text-align:right;color:#000;letter-spacing:-0.5px">6,26</div>
<div class="t" style="left:813px;top:174px;width:67.5px;text-align:right;color:#000;letter-spacing:-0.5px">6,52</div>
<div class="t" style="left:884px;top:174px;width:67.5px;text-align:right;color:#000;letter-spacing:-0.5px">7,47</div>
<div class="t" style="left:955px;top:174px;width:67.5px;text-align:right;color:#000;letter-spacing:-0.5px">8,13</div>
<div class="t" style="left:1026px;top:174px;width:68.5px;text-align:right;color:#000;letter-spacing:-0.5px">7,13</div>
<div class="t" style="left:1098px;top:174px;width:66.5px;text-align:right;color:#000;letter-spacing:-0.5px">6,53</div>
<div class="t" style="left:1168px;top:174px;width:177.5px;text-align:right;color:#000;letter-spacing:-0.5px">83,14</div>
<div class="a" style="left:1350px;top:20px;width:16px;height:166px;background:linear-gradient(90deg,#c5d7ec,#d6e4f3)"></div>
<div class="a" style="left:1351px;top:38px;width:14px;height:104px;border:1px solid #9db6d6;border-radius:2px;background:linear-gradient(90deg,#e8f0f9,#c9dbef)"></div>
<svg style="left:1353px;top:86px" width="9" height="7" viewBox="0 0 9 7"><path d="M1 1h7M1 3h7M1 5h7" stroke="#8aa2c2" stroke-width="0.8"/></svg>
<svg style="left:1353px;top:26px" width="10" height="6" viewBox="0 0 10 6"><path d="M0.5 5.5h9l-4.5-5z" fill="#4a5878"/></svg>
<svg style="left:1353px;top:173px" width="10" height="6" viewBox="0 0 10 6"><path d="M0.5 0.5h9l-4.5 5z" fill="#4a5878"/></svg>
</div>
<svg style="left:0;top:0" width="1699" height="1031" viewBox="0 0 1699 1031">
<g shape-rendering="crispEdges" fill="none" stroke="#eeede9" stroke-width="1">
<path d="M323 706.5H1635"/>
<path d="M323 669.5H1635"/>
<path d="M323 632.5H1635"/>
<path d="M323 595.5H1635"/>
<path d="M323 558.5H1635"/>
<path d="M323 521.5H1635"/>
<path d="M323 484.5H1635"/>
<path d="M323 662.5H1635"/>
<path d="M323 617.5H1635"/>
<path d="M323 572.5H1635"/>
<path d="M323 528.5H1635"/>
<path d="M381.5 480V710"/>
<path d="M490.5 480V710"/>
<path d="M598.5 480V710"/>
<path d="M707.5 480V710"/>
<path d="M816.5 480V710"/>
<path d="M924.5 480V710"/>
<path d="M1033.5 480V710"/>
<path d="M1141.5 480V710"/>
<path d="M1250.5 480V710"/>
<path d="M1359.5 480V710"/>
<path d="M1467.5 480V710"/>
<path d="M1576.5 480V710"/>
</g>
<g font-family="Liberation Sans" font-size="10" fill="#9c9c9c" style="letter-spacing:0">
<text x="319.5" y="710.1" text-anchor="end">0</text>
<text x="319.5" y="673.0" text-anchor="end">500</text>
<text x="319.5" y="635.9" text-anchor="end">1000</text>
<text x="319.5" y="598.9" text-anchor="end">1500</text>
<text x="319.5" y="561.8" text-anchor="end">2000</text>
<text x="319.5" y="524.7" text-anchor="end">2500</text>
<text x="319.5" y="487.6" text-anchor="end">3000</text>
<text x="1639" y="710.1">0%</text>
<text x="1639" y="665.6">20%</text>
<text x="1639" y="621.1">40%</text>
<text x="1639" y="576.6">60%</text>
<text x="1639" y="532.1">80%</text>
<text x="1639" y="487.6">100%</text>
<text x="381.5" y="724.7" text-anchor="middle">Gen</text>
<text x="490.1" y="724.7" text-anchor="middle">Feb</text>
<text x="598.8" y="724.7" text-anchor="middle">Mar</text>
<text x="707.4" y="724.7" text-anchor="middle">Apr</text>
<text x="816.0" y="724.7" text-anchor="middle">Mag</text>
<text x="924.7" y="724.7" text-anchor="middle">Giu</text>
<text x="1033.3" y="724.7" text-anchor="middle">Lug</text>
<text x="1142.0" y="724.7" text-anchor="middle">Ago</text>
<text x="1250.6" y="724.7" text-anchor="middle">Set</text>
<text x="1359.2" y="724.7" text-anchor="middle">Ott</text>
<text x="1467.9" y="724.7" text-anchor="middle">Nov</text>
<text x="1576.5" y="724.7" text-anchor="middle">Dic</text>
<text x="979" y="734" text-anchor="middle">Mesi</text>
<text transform="translate(1675 596) rotate(-90)" text-anchor="middle" fill="#b0b0b0">Copertura [%]</text>
</g>
<g shape-rendering="crispEdges">
<rect x="365.0" y="695.58" width="33" height="10.92" fill="#2ca02c"/>
<rect x="365.0" y="686.39" width="33" height="9.20" fill="#0096ff"/>
<rect x="365.0" y="629.58" width="33" height="56.80" fill="#f5bf00"/>
<rect x="365.0" y="625.67" width="33" height="3.91" fill="#ff5a2e"/>
<rect x="473.6" y="696.42" width="33" height="10.08" fill="#2ca02c"/>
<rect x="473.6" y="686.12" width="33" height="10.30" fill="#0096ff"/>
<rect x="473.6" y="619.38" width="33" height="66.74" fill="#f5bf00"/>
<rect x="473.6" y="618.15" width="33" height="1.23" fill="#ff5a2e"/>
<rect x="582.3" y="693.57" width="33" height="12.93" fill="#2ca02c"/>
<rect x="582.3" y="682.64" width="33" height="10.94" fill="#0096ff"/>
<rect x="582.3" y="583.92" width="33" height="98.72" fill="#f5bf00"/>
<rect x="582.3" y="583.87" width="33" height="0.06" fill="#ff5a2e"/>
<rect x="690.9" y="693.29" width="33" height="13.21" fill="#2ca02c"/>
<rect x="690.9" y="683.38" width="33" height="9.91" fill="#0096ff"/>
<rect x="690.9" y="560.73" width="33" height="122.65" fill="#f5bf00"/>
<rect x="799.5" y="691.41" width="33" height="15.09" fill="#2ca02c"/>
<rect x="799.5" y="682.47" width="33" height="8.94" fill="#0096ff"/>
<rect x="799.5" y="548.46" width="33" height="134.01" fill="#f5bf00"/>
<rect x="908.2" y="691.80" width="33" height="14.70" fill="#2ca02c"/>
<rect x="908.2" y="683.38" width="33" height="8.42" fill="#0096ff"/>
<rect x="908.2" y="532.24" width="33" height="151.15" fill="#f5bf00"/>
<rect x="1016.8" y="691.41" width="33" height="15.09" fill="#2ca02c"/>
<rect x="1016.8" y="682.58" width="33" height="8.83" fill="#0096ff"/>
<rect x="1016.8" y="507.80" width="33" height="174.78" fill="#f5bf00"/>
<rect x="1125.5" y="691.67" width="33" height="14.83" fill="#2ca02c"/>
<rect x="1125.5" y="682.47" width="33" height="9.20" fill="#0096ff"/>
<rect x="1125.5" y="529.31" width="33" height="153.16" fill="#f5bf00"/>
<rect x="1234.1" y="694.03" width="33" height="12.47" fill="#2ca02c"/>
<rect x="1234.1" y="683.49" width="33" height="10.54" fill="#0096ff"/>
<rect x="1234.1" y="563.80" width="33" height="119.69" fill="#f5bf00"/>
<rect x="1342.7" y="694.31" width="33" height="12.19" fill="#2ca02c"/>
<rect x="1342.7" y="682.82" width="33" height="11.48" fill="#0096ff"/>
<rect x="1342.7" y="589.14" width="33" height="93.68" fill="#f5bf00"/>
<rect x="1342.7" y="588.79" width="33" height="0.35" fill="#ff5a2e"/>
<rect x="1451.4" y="695.87" width="33" height="10.63" fill="#2ca02c"/>
<rect x="1451.4" y="685.76" width="33" height="10.11" fill="#0096ff"/>
<rect x="1451.4" y="627.66" width="33" height="58.10" fill="#f5bf00"/>
<rect x="1451.4" y="625.17" width="33" height="2.49" fill="#ff5a2e"/>
<rect x="1560.0" y="696.32" width="33" height="10.18" fill="#2ca02c"/>
<rect x="1560.0" y="687.08" width="33" height="9.25" fill="#0096ff"/>
<rect x="1560.0" y="628.38" width="33" height="58.70" fill="#f5bf00"/>
<rect x="1560.0" y="623.99" width="33" height="4.39" fill="#ff5a2e"/>
</g>
<polyline points="381.5,682.5 490.1,684.9 598.8,682.6 707.4,683.4 816.0,682.5 924.7,683.4 1033.3,682.6 1142.0,682.5 1250.6,683.5 1359.2,682.5 1467.9,683.3 1576.5,682.7" fill="none" stroke="#f53b5c" stroke-width="2"/>
<circle cx="381.5" cy="682.5" r="3.4" fill="#fff" stroke="#f53b5c" stroke-width="2"/>
<circle cx="490.1" cy="684.9" r="3.4" fill="#fff" stroke="#f53b5c" stroke-width="2"/>
<circle cx="598.8" cy="682.6" r="3.4" fill="#fff" stroke="#f53b5c" stroke-width="2"/>
<circle cx="707.4" cy="683.4" r="3.4" fill="#fff" stroke="#f53b5c" stroke-width="2"/>
<circle cx="816.0" cy="682.5" r="3.4" fill="#fff" stroke="#f53b5c" stroke-width="2"/>
<circle cx="924.7" cy="683.4" r="3.4" fill="#fff" stroke="#f53b5c" stroke-width="2"/>
<circle cx="1033.3" cy="682.6" r="3.4" fill="#fff" stroke="#f53b5c" stroke-width="2"/>
<circle cx="1142.0" cy="682.5" r="3.4" fill="#fff" stroke="#f53b5c" stroke-width="2"/>
<circle cx="1250.6" cy="683.5" r="3.4" fill="#fff" stroke="#f53b5c" stroke-width="2"/>
<circle cx="1359.2" cy="682.5" r="3.4" fill="#fff" stroke="#f53b5c" stroke-width="2"/>
<circle cx="1467.9" cy="683.3" r="3.4" fill="#fff" stroke="#f53b5c" stroke-width="2"/>
<circle cx="1576.5" cy="682.7" r="3.4" fill="#fff" stroke="#f53b5c" stroke-width="2"/>
<polyline points="381.5,629.0 490.1,618.8 598.8,583.3 707.4,560.2 816.0,548.0 924.7,531.8 1033.3,507.3 1142.0,528.8 1250.6,563.3 1359.2,588.6 1467.9,627.2 1576.5,627.9" fill="none" stroke="#2ca02c" stroke-width="2"/>
<circle cx="381.5" cy="629.0" r="3.4" fill="#fff" stroke="#2ca02c" stroke-width="2"/>
<circle cx="490.1" cy="618.8" r="3.4" fill="#fff" stroke="#2ca02c" stroke-width="2"/>
<circle cx="598.8" cy="583.3" r="3.4" fill="#fff" stroke="#2ca02c" stroke-width="2"/>
<circle cx="707.4" cy="560.2" r="3.4" fill="#fff" stroke="#2ca02c" stroke-width="2"/>
<circle cx="816.0" cy="548.0" r="3.4" fill="#fff" stroke="#2ca02c" stroke-width="2"/>
<circle cx="924.7" cy="531.8" r="3.4" fill="#fff" stroke="#2ca02c" stroke-width="2"/>
<circle cx="1033.3" cy="507.3" r="3.4" fill="#fff" stroke="#2ca02c" stroke-width="2"/>
<circle cx="1142.0" cy="528.8" r="3.4" fill="#fff" stroke="#2ca02c" stroke-width="2"/>
<circle cx="1250.6" cy="563.3" r="3.4" fill="#fff" stroke="#2ca02c" stroke-width="2"/>
<circle cx="1359.2" cy="588.6" r="3.4" fill="#fff" stroke="#2ca02c" stroke-width="2"/>
<circle cx="1467.9" cy="627.2" r="3.4" fill="#fff" stroke="#2ca02c" stroke-width="2"/>
<circle cx="1576.5" cy="627.9" r="3.4" fill="#fff" stroke="#2ca02c" stroke-width="2"/>
<polyline points="381.5,520.2 490.1,496.7 598.8,484.5 707.4,484.0 816.0,484.0 924.7,484.0 1033.3,484.0 1142.0,484.0 1250.6,484.0 1359.2,487.2 1467.9,507.8 1576.5,525.0" fill="none" stroke="#0ec2e0" stroke-width="2"/>
<circle cx="381.5" cy="520.2" r="3.4" fill="#fff" stroke="#0ec2e0" stroke-width="2"/>
<circle cx="490.1" cy="496.7" r="3.4" fill="#fff" stroke="#0ec2e0" stroke-width="2"/>
<circle cx="598.8" cy="484.5" r="3.4" fill="#fff" stroke="#0ec2e0" stroke-width="2"/>
<circle cx="707.4" cy="484.0" r="3.4" fill="#fff" stroke="#0ec2e0" stroke-width="2"/>
<circle cx="816.0" cy="484.0" r="3.4" fill="#fff" stroke="#0ec2e0" stroke-width="2"/>
<circle cx="924.7" cy="484.0" r="3.4" fill="#fff" stroke="#0ec2e0" stroke-width="2"/>
<circle cx="1033.3" cy="484.0" r="3.4" fill="#fff" stroke="#0ec2e0" stroke-width="2"/>
<circle cx="1142.0" cy="484.0" r="3.4" fill="#fff" stroke="#0ec2e0" stroke-width="2"/>
<circle cx="1250.6" cy="484.0" r="3.4" fill="#fff" stroke="#0ec2e0" stroke-width="2"/>
<circle cx="1359.2" cy="487.2" r="3.4" fill="#fff" stroke="#0ec2e0" stroke-width="2"/>
<circle cx="1467.9" cy="507.8" r="3.4" fill="#fff" stroke="#0ec2e0" stroke-width="2"/>
<circle cx="1576.5" cy="525.0" r="3.4" fill="#fff" stroke="#0ec2e0" stroke-width="2"/>
<g font-family="Liberation Sans" font-size="12" fill="#000" style="letter-spacing:-0.7px">
<circle cx="637" cy="470.5" r="7.3" fill="#2ca02c"/>
<text x="649" y="473.7">Autoconsumata</text>
<circle cx="738.3" cy="470.5" r="7.3" fill="#0096ff"/>
<text x="750" y="473.7">Consumo coperto da accumulo</text>
<circle cx="912.3" cy="470.5" r="7.3" fill="#f5bf00"/>
<text x="924" y="473.7">Immessa in rete</text>
<circle cx="1015.2" cy="470.5" r="7.3" fill="#ff5a2e"/>
<text x="1026.6" y="473.7">Prelevata da rete</text>
<circle cx="1123" cy="470.5" r="6.3" fill="none" stroke="#f53b5c" stroke-width="2"/>
<text x="1134.4" y="473.7">Consumo</text>
<circle cx="1195.3" cy="470.5" r="6.3" fill="none" stroke="#2ca02c" stroke-width="2"/>
<text x="1207" y="473.7">Prodotta</text>
<circle cx="1263" cy="470.5" r="6.3" fill="none" stroke="#0ec2e0" stroke-width="2"/>
<text x="1274.4" y="473.7">Copertura [%]</text>
</g>
<path d="M640.5,895 L715.45,820.05 A106,106 0 1 1 606.95,794.45 Z" fill="#f5bf00" stroke="#fff" stroke-width="1.5" stroke-linejoin="round"/>
<path d="M640.5,895 L606.95,794.45 A106,106 0 0 1 670.80,793.42 Z" fill="#2ca02c" stroke="#fff" stroke-width="1.5" stroke-linejoin="round"/>
<path d="M640.5,895 L670.80,793.42 A106,106 0 0 1 673.31,794.20 Z" fill="#ff8fe6" stroke="#fff" stroke-width="1.5" stroke-linejoin="round"/>
<path d="M640.5,895 L673.31,794.20 A106,106 0 0 1 715.45,820.05 Z" fill="#577d8e" stroke="#fff" stroke-width="1.5" stroke-linejoin="round"/>
<text x="624.5" y="968.0" text-anchor="middle" font-family="Liberation Sans" font-size="10.4" font-weight="bold" fill="#fff" style="letter-spacing:0.1px">17368.64</text>
<text x="639.3" y="830.9" text-anchor="middle" font-family="Liberation Sans" font-size="10.4" font-weight="bold" fill="#fff" style="letter-spacing:0.1px">2053.57</text>
<text x="661.6" y="833.9" text-anchor="middle" font-family="Liberation Sans" font-size="10.4" font-weight="bold" fill="#fff" style="letter-spacing:0.1px">83.14</text>
<text x="677.2" y="840.9" text-anchor="middle" font-family="Liberation Sans" font-size="10.4" font-weight="bold" fill="#fff" style="letter-spacing:0.1px">1579.74</text>
<path d="M1332.4,894.8 L1407.35,819.85 A106,106 0 0 1 1424.99,843.20 Z" fill="#ff5a2e" stroke="#fff" stroke-width="1.5" stroke-linejoin="round"/>
<path d="M1332.4,894.8 L1424.99,843.20 A106,106 0 1 1 1229.81,921.48 Z" fill="#2ca02c" stroke="#fff" stroke-width="1.5" stroke-linejoin="round"/>
<path d="M1332.4,894.8 L1229.81,921.48 A106,106 0 0 1 1407.35,819.85 Z" fill="#0096ff" stroke="#fff" stroke-width="1.5" stroke-linejoin="round"/>
<text x="1388.2" y="858.1" text-anchor="middle" font-family="Liberation Sans" font-size="10.4" font-weight="bold" fill="#fff" style="letter-spacing:0.1px">167.54</text>
<text x="1358.5" y="965.0" text-anchor="middle" font-family="Liberation Sans" font-size="10.4" font-weight="bold" fill="#fff" style="letter-spacing:0.1px">2053.57</text>
<text x="1298.3" y="840.0" text-anchor="middle" font-family="Liberation Sans" font-size="10.4" font-weight="bold" fill="#fff" style="letter-spacing:0.1px">1578.89</text>
<g font-family="Liberation Sans" font-size="12" font-weight="bold" fill="#111" text-anchor="middle">
<text x="640.4" y="758" style="letter-spacing:-0.37px">Energia prodotta [kWh]</text>
<text x="1331.8" y="758" style="letter-spacing:-0.46px">Consumo [kWh]</text>
</g>
<g font-family="Liberation Sans" font-size="12" fill="#000" style="letter-spacing:-0.7px">
<circle cx="452" cy="773.2" r="5.6" fill="#f5bf00"/>
<text x="463.5" y="776.8">Immessa in rete</text>
<circle cx="554.6" cy="773.2" r="5.6" fill="#2ca02c"/>
<text x="566" y="776.8">Autoconsumata</text>
<circle cx="656" cy="773.2" r="5.6" fill="#ff8fe6"/>
<text x="668" y="776.8">Perdite accumulo</text>
<circle cx="765.6" cy="773.2" r="5.6" fill="#577d8e"/>
<text x="777" y="776.8">Accumulata</text>
<circle cx="1150.4" cy="773.2" r="5.6" fill="#ff5a2e"/>
<text x="1162" y="776.8">Prelevata da rete</text>
<circle cx="1258.3" cy="773.2" r="5.6" fill="#2ca02c"/>
<text x="1270" y="776.8">Autoconsumata</text>
<circle cx="1359.6" cy="773.2" r="5.6" fill="#0096ff"/>
<text x="1371" y="776.8">Consumo coperto da accumulo</text>
</g>
</svg>

</body></html>
